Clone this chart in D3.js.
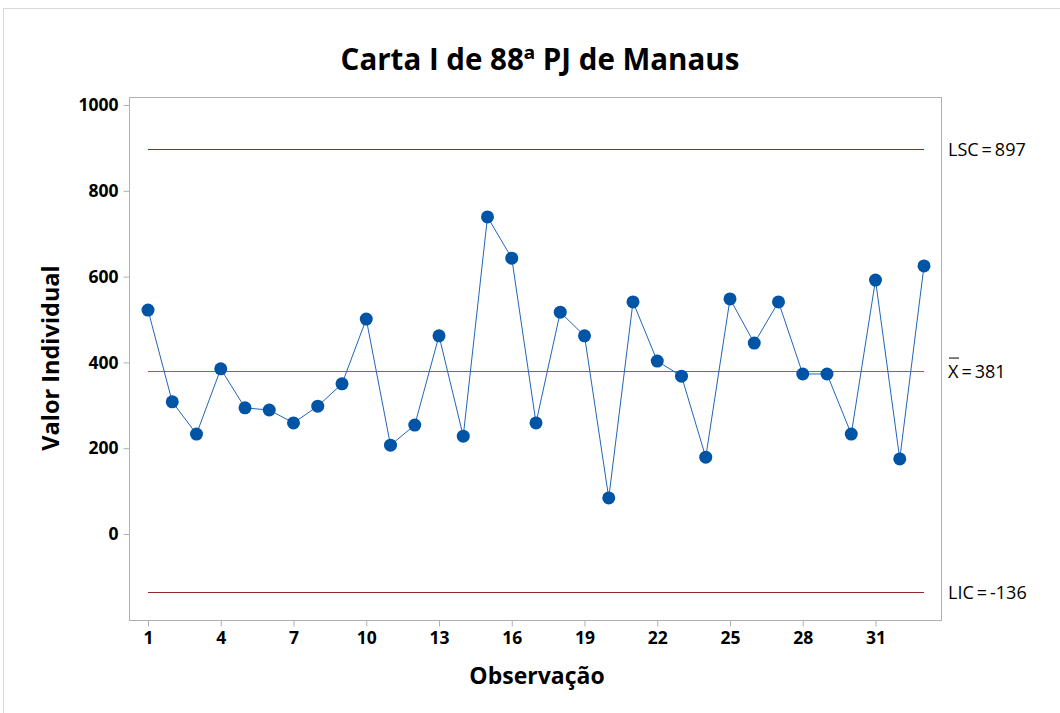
<!DOCTYPE html>
<html>
<head>
<meta charset="utf-8">
<script src="https://cdn.jsdelivr.net/npm/d3@7"></script>
<style>
  body { margin: 0; background: #fff; }
  text { font-family: "Open Sans", "Noto Sans", sans-serif; fill: #000; }
</style>
</head>
<body>
<script>
// observations of the I chart
const observations = d3.range(1, 34);
const values = [522, 308, 233, 385, 294, 289, 259, 298, 350, 501,
  207, 254, 462, 228, 739, 643, 259, 517, 462, 84,
  541, 403, 368, 179, 548, 445, 541, 373, 373, 233,
  592, 175, 625];
const xTicks = [1, 4, 7, 10, 13, 16, 19, 22, 25, 28, 31];
const yTicks = [0, 200, 400, 600, 800, 1000];
const limits = [
  { name: 'LSC', value: 897, label: 'LSC\u2009=\u2009897', color: '#8c2a2a' },
  { name: 'mean', value: 381, label: 'X\u2009=\u2009381', color: '#4a8a3c' },
  { name: 'LIC', value: -136, label: 'LIC\u2009=\u2009-136', color: '#8c2a2a' }
];

const width = 1060;
const height = 713;
const plot = { left: 129, top: 97, right: 941, bottom: 620 };

const svg = d3.select('body')
  .append('svg')
  .attr('width', width)
  .attr('height', height);

// outer frame
svg.append('rect')
  .attr('x', 3.5).attr('y', 8.5)
  .attr('width', width).attr('height', height)
  .attr('fill', 'none')
  .attr('stroke', '#d9d9d9');

const x = d3.scaleLinear().domain([1, 33]).range([148, 924]);
const y = d3.scaleLinear().domain([0, 1000]).range([534, 105]);

// plot frame
svg.append('rect')
  .attr('x', plot.left + 0.5).attr('y', plot.top + 0.5)
  .attr('width', plot.right - plot.left).attr('height', plot.bottom - plot.top)
  .attr('fill', 'none')
  .attr('stroke', '#b0b0b0');

// axes
const xAxis = svg.append('g')
  .attr('transform', `translate(0,${plot.bottom + 0.5})`)
  .call(d3.axisBottom(x).tickValues(xTicks).tickSize(6).tickPadding(5).tickFormat(d3.format('d')));
const yAxis = svg.append('g')
  .attr('transform', `translate(${plot.left + 0.5},0)`)
  .call(d3.axisLeft(y).tickValues(yTicks).tickSize(6).tickPadding(5).tickFormat(d3.format('d')));

[xAxis, yAxis].forEach(g => {
  g.select('.domain').remove();
  g.selectAll('.tick line').attr('stroke', '#b0b0b0');
  g.selectAll('.tick text')
    .attr('font-size', 17.5)
    .attr('font-weight', 'bold')
    .style('font-family', '"Open Sans", "Noto Sans", sans-serif');
});

// control limits
limits.forEach(l => {
  svg.append('line')
    .attr('x1', x(1)).attr('x2', x(33))
    .attr('y1', Math.round(y(l.value)) + 0.5).attr('y2', Math.round(y(l.value)) + 0.5)
    .attr('stroke', l.color)
    .attr('stroke-width', 1);
  svg.append('text')
    .attr('x', 948)
    .attr('y', y(l.value) + 7)
    .attr('font-size', 18)
    .text(l.label);
  if (l.name === 'mean') {
    // bar over X
    svg.append('line')
      .attr('x1', 949).attr('x2', 959)
      .attr('y1', y(l.value) - 12.5).attr('y2', y(l.value) - 12.5)
      .attr('stroke', '#000').attr('stroke-width', 1);
  }
});

// data line
const line = d3.line()
  .x((d, i) => x(observations[i]))
  .y(d => y(d));

svg.append('path')
  .datum(values)
  .attr('d', line)
  .attr('fill', 'none')
  .attr('stroke', '#2166b8')
  .attr('stroke-width', 1);

svg.selectAll('circle.pt')
  .data(values)
  .join('circle')
  .attr('class', 'pt')
  .attr('cx', (d, i) => x(observations[i]))
  .attr('cy', d => y(d))
  .attr('r', 6.5)
  .attr('fill', '#0054a6');

// titles
svg.append('text')
  .attr('x', 540).attr('y', 70)
  .attr('text-anchor', 'middle')
  .attr('font-size', 29.5)
  .attr('font-weight', 'bold')
  .text('Carta I de 88ª PJ de Manaus');

svg.append('text')
  .attr('x', 537).attr('y', 684)
  .attr('text-anchor', 'middle')
  .attr('font-size', 23)
  .attr('font-weight', 'bold')
  .text('Observação');

svg.append('text')
  .attr('transform', 'translate(59,358) rotate(-90)')
  .attr('text-anchor', 'middle')
  .attr('font-size', 23.5)
  .attr('font-weight', 'bold')
  .text('Valor Individual');
</script>
</body>
</html>
